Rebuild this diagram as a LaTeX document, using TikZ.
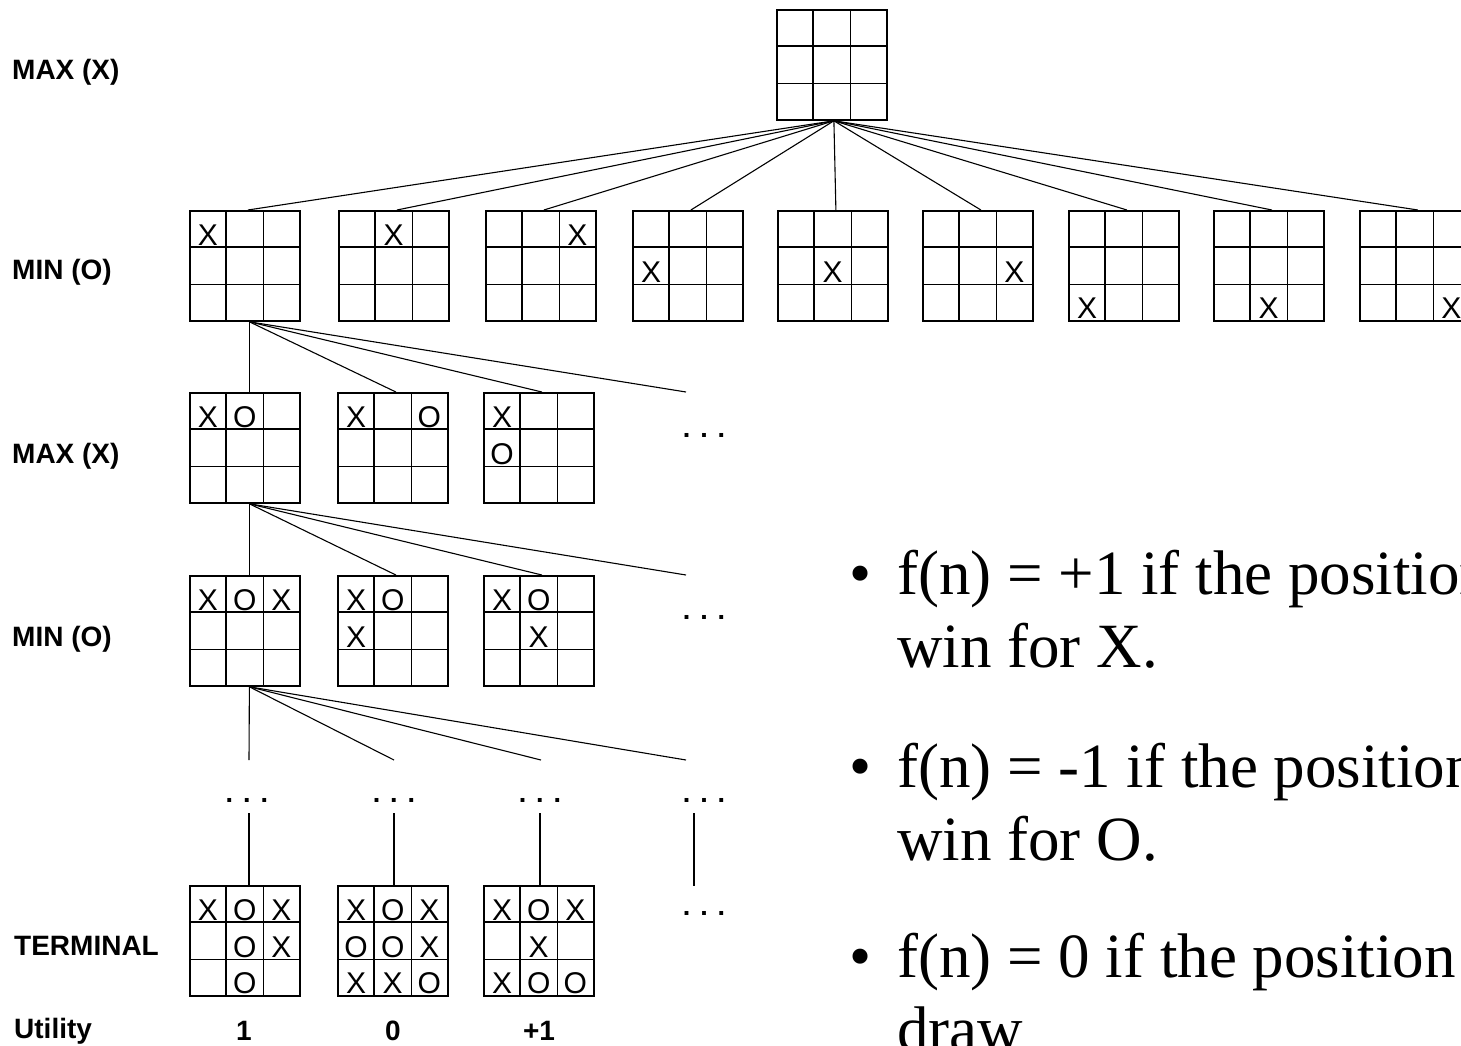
\documentclass[tikz,border=0pt]{standalone}
\usepackage{fontspec}
\setmainfont{Liberation Serif}
\newfontfamily\lblfont{Liberation Sans}
\usetikzlibrary{calc}

\tikzset{
  boardbox/.style={draw, line width=1.8pt, minimum width=110pt, minimum height=110pt, inner sep=0pt, anchor=north west},
  gridline/.style={line width=1.8pt},
  edgeline/.style={line width=1.1pt},
  xomark/.style={font=\lblfont\fontsize{30}{30}\selectfont, inner sep=0pt, anchor=base},
  lvl/.style={font=\lblfont\bfseries\fontsize{28}{28}\selectfont, inner sep=0pt, anchor=base west},
  util/.style={font=\lblfont\bfseries\fontsize{28}{28}\selectfont, inner sep=0pt, anchor=base},
  dotsnode/.style={font=\lblfont\bfseries\fontsize{27}{27}\selectfont, inner sep=0pt, anchor=base},
  bullettext/.style={font=\fontsize{63}{70}\selectfont, inner sep=0pt, anchor=base west},
  bulletdot/.style={font=\fontsize{63}{70}\selectfont, inner sep=0pt, anchor=base},
}

% board: name, left, top
\newcommand\tttboard[3]{%
  \node[boardbox] (#1) at (#2,#3) {};
  \draw[gridline] ($(#1.north west)!1/3!(#1.north east)$) -- ($(#1.south west)!1/3!(#1.south east)$);
  \draw[gridline] ($(#1.north west)!2/3!(#1.north east)$) -- ($(#1.south west)!2/3!(#1.south east)$);
  \draw[gridline] ($(#1.north west)!1/3!(#1.south west)$) -- ($(#1.north east)!1/3!(#1.south east)$);
  \draw[gridline] ($(#1.north west)!2/3!(#1.south west)$) -- ($(#1.north east)!2/3!(#1.south east)$);
}
% marks: board name, left, top, list index/char
\newcommand\tttmarks[4]{%
  \foreach \i/\m in {#4} {
    \pgfmathtruncatemacro\cc{mod(\i,3)}
    \pgfmathtruncatemacro\rr{div(\i,3)}
    \node[xomark] (#1-m\i) at ({#2+19+36.7*\cc},{#3+36.7*(\rr+1)-1.2}) {\m};
  }
}

\begin{document}
\begin{tikzpicture}[x=1pt,y=-1pt]
\useasboundingbox (0,0) rectangle (1461,1045);
\fill[white] (0,0) rectangle (1461,1045);
\clip (0,0) rectangle (1461,1045);

% ---- level labels
\node[lvl] (lab0) at (12,79) {MAX (X)};
\node[lvl] (lab1) at (12,279) {MIN (O)};
\node[lvl] (lab2) at (12,463) {MAX (X)};
\node[lvl] (lab3) at (12,646) {MIN (O)};
\node[lvl] (lab4) at (14,955) {TERMINAL};
\node[lvl] (lab5) at (14,1038) {Utility};

% ---- root
\tttboard{root}{776}{9}

% ---- level 1
\tttboard{a1}{189}{210}
\tttboard{a2}{338}{210}
\tttboard{a3}{485}{210}
\tttboard{a4}{632}{210}
\tttboard{a5}{777}{210}
\tttboard{a6}{922}{210}
\tttboard{a7}{1068}{210}
\tttboard{a8}{1213}{210}
\tttboard{a9}{1359}{210}
\tttmarks{a1}{189}{210}{0/X}
\tttmarks{a2}{338}{210}{1/X}
\tttmarks{a3}{485}{210}{2/X}
\tttmarks{a4}{632}{210}{3/X}
\tttmarks{a5}{777}{210}{4/X}
\tttmarks{a6}{922}{210}{5/X}
\tttmarks{a7}{1068}{210}{6/X}
\tttmarks{a8}{1213}{210}{7/X}
\tttmarks{a9}{1359}{210}{8/X}

% ---- level 2
\tttboard{b1}{189}{392}
\tttboard{b2}{337}{392}
\tttboard{b3}{483}{392}
\tttmarks{b1}{189}{392}{0/X,1/O}
\tttmarks{b2}{337}{392}{0/X,2/O}
\tttmarks{b3}{483}{392}{0/X,3/O}

% ---- level 3
\tttboard{c1}{189}{575}
\tttboard{c2}{337}{575}
\tttboard{c3}{483}{575}
\tttmarks{c1}{189}{575}{0/X,1/O,2/X}
\tttmarks{c2}{337}{575}{0/X,1/O,3/X}
\tttmarks{c3}{483}{575}{0/X,1/O,4/X}

% ---- terminal
\tttboard{t1}{189}{885}
\tttboard{t2}{337}{885}
\tttboard{t3}{483}{885}
\tttmarks{t1}{189}{885}{0/X,1/O,2/X,4/O,5/X,7/O}
\tttmarks{t2}{337}{885}{0/X,1/O,2/X,3/O,4/O,5/X,6/X,7/X,8/O}
\tttmarks{t3}{483}{885}{0/X,1/O,2/X,4/X,6/X,7/O,8/O}

% ---- utilities
\node[util] (u1) at (244,1040) {1};
\node[util] (u2) at (393,1040) {0};
\node[util] (u3) at (539,1040) {+1};

% ---- free ends and dots
\coordinate (f2) at (686,392);
\coordinate (f3) at (686,575);
\coordinate (e1) at (249,760);
\coordinate (e2) at (394,760);
\coordinate (e3) at (541,760);
\coordinate (e4) at (686,760);
\node[dotsnode] (d2) at (704,437) {. . .};
\node[dotsnode] (d3) at (704,619) {. . .};
\node[dotsnode] (d4a) at (247,802) {. . .};
\node[dotsnode] (d4b) at (394,802) {. . .};
\node[dotsnode] (d4c) at (540,802) {. . .};
\node[dotsnode] (d4d) at (704,802) {. . .};
\node[dotsnode] (dt) at (704,915) {. . .};
\coordinate (v1) at (249,813);
\coordinate (v2) at (394,813);
\coordinate (v3) at (540,813);
\coordinate (v4a) at (694,813);
\coordinate (v4b) at (694,886);

% ---- connectors root -> level 1
\foreach \n in {a1,a2,a3,a4,a5,a6,a7,a8,a9}
  \draw[edgeline] ([xshift=2pt]root.south) -- ([xshift=3pt]\n.north);

% ---- a1 -> level 2
\draw[edgeline] ([xshift=4.5pt]a1.south) -- ([xshift=4.5pt]b1.north);
\draw[edgeline] ([xshift=4.5pt]a1.south) -- ([xshift=3pt]b2.north);
\draw[edgeline] ([xshift=4.5pt]a1.south) -- ([xshift=3pt]b3.north);
\draw[edgeline] ([xshift=4.5pt]a1.south) -- (f2);

% ---- b1 -> level 3
\draw[edgeline] ([xshift=4.5pt]b1.south) -- ([xshift=4.5pt]c1.north);
\draw[edgeline] ([xshift=4.5pt]b1.south) -- ([xshift=3pt]c2.north);
\draw[edgeline] ([xshift=4.5pt]b1.south) -- ([xshift=3pt]c3.north);
\draw[edgeline] ([xshift=4.5pt]b1.south) -- (f3);

% ---- c1 -> level 4
\foreach \e in {e1,e2,e3,e4}
  \draw[edgeline] ([xshift=4.5pt]c1.south) -- (\e);

% ---- level 4 -> terminal
\draw[edgeline] (v1) -- (v1 |- t1.north);
\draw[edgeline] (v2) -- (v2 |- t2.north);
\draw[edgeline] (v3) -- (v3 |- t3.north);
\draw[edgeline] (v4a) -- (v4b);

% ---- bullet text
\node[bulletdot] (bd1) at (861,594) {•};
\node[bullettext] (bt1) at (897,594) {f(n) = +1 if the position};
\node[bullettext] (bt1b) at (897,667) {win for X.};
\node[bulletdot] (bd2) at (861,787) {•};
\node[bullettext] (bt2) at (897,787) {f(n) = -1 if the position};
\node[bullettext] (bt2b) at (897,860) {win for O.};
\node[bulletdot] (bd3) at (861,977) {•};
\node[bullettext] (bt3) at (897,977) {f(n) = 0 if the position};
\node[bullettext] (bt3b) at (897,1050) {draw};
\end{tikzpicture}
\end{document}
